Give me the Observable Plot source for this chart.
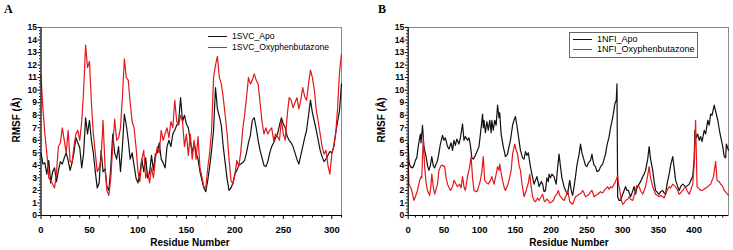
<!DOCTYPE html>
<html><head><meta charset="utf-8">
<script src="https://cdn.jsdelivr.net/npm/d3@7"></script>
<script src="https://cdn.jsdelivr.net/npm/@observablehq/plot@0.6"></script>
<style>
body{margin:0;background:#fff;}
#wrap{position:relative;width:733px;height:250px;font-family:Arial,"Liberation Sans",sans-serif;overflow:hidden;}
.panel{position:absolute;top:0;}
.letter{position:absolute;font-family:"Liberation Serif","DejaVu Serif",serif;font-weight:bold;font-size:12px;line-height:12px;}
.ytitle{position:absolute;font-weight:bold;font-size:10px;transform:translate(-50%,-50%) rotate(-90deg);white-space:nowrap;}
.xtitle{position:absolute;font-weight:bold;font-size:10px;transform:translate(-50%,-50%);white-space:nowrap;}
.legrow{position:absolute;line-height:9px;white-space:nowrap;transform:translateY(-50%);}
.legline{position:absolute;height:0;border-top:1.2px solid #000;}
.legbox{position:absolute;border:1px solid #666;}
</style></head>
<body><div id="wrap"></div>
<script>
// ---------- Panel A: 1SVC ----------
const aResidues = d3.range(0, 311, 2);
const aApo = [5.0,4.1,4.2,3.3,4.4,2.6,3.5,3.8,2.7,3.6,4.3,4.1,4.6,5.0,4.4,3.6,4.2,5.0,6.2,5.8,
5.4,3.8,5.0,7.8,6.5,7.6,6.0,5.0,3.5,2.2,2.6,5.2,3.5,3.7,2.3,2.0,3.8,6.5,5.0,4.5,
5.5,3.5,5.5,8.1,7.2,6.0,4.5,5.0,4.0,3.0,2.6,3.4,4.5,3.5,4.6,3.0,3.4,4.8,3.6,4.9,
5.0,5.8,4.5,4.2,3.8,5.5,6.0,5.5,6.5,6.8,7.2,7.5,9.4,7.5,8.0,7.3,7.0,6.0,5.0,5.8,
5.0,4.5,3.5,2.8,2.2,1.9,2.8,3.9,5.2,6.8,10.2,8.5,7.9,7.2,5.5,4.2,2.9,2.0,2.2,2.6,
3.3,3.6,4.0,4.1,4.2,4.4,5.0,5.8,6.4,7.6,7.8,7.0,6.0,5.2,4.6,4.0,3.9,4.3,5.0,5.5,
5.8,6.2,6.5,7.2,7.8,7.3,7.0,6.3,6.0,5.8,5.5,5.0,4.5,4.1,4.8,5.5,6.2,6.8,8.0,9.2,
8.2,7.5,6.8,6.0,5.2,4.7,4.3,4.5,4.8,5.1,5.0,5.5,6.6,7.5,8.4,10.5];
const aOxy = [11.2,8.5,6.5,5.0,3.0,2.8,2.5,2.2,3.5,5.5,5.8,7.0,6.0,5.0,6.8,4.3,4.2,5.5,6.5,6.8,
6.0,7.5,10.0,13.6,11.8,12.3,9.0,6.5,5.0,3.5,3.8,4.5,7.6,4.0,2.0,1.6,3.0,5.5,7.7,6.0,
6.2,7.0,9.5,12.5,11.0,10.8,9.0,7.5,7.0,5.5,3.5,2.7,4.5,5.2,3.0,3.5,2.6,3.8,3.0,4.5,
5.5,5.0,6.8,6.0,6.5,7.0,6.2,7.5,7.0,9.2,7.5,7.2,8.0,7.5,5.5,6.5,4.8,6.5,4.5,6.0,
4.5,6.3,3.8,3.1,2.3,2.2,3.8,5.0,6.8,11.0,12.0,12.7,11.0,10.5,9.4,8.0,6.5,4.5,2.8,2.5,
3.2,4.4,3.9,5.0,6.8,8.0,9.4,11.0,10.5,10.8,11.3,10.8,10.5,9.0,7.5,6.5,7.0,6.5,6.8,7.0,
6.0,6.5,6.3,6.0,7.6,6.5,6.0,8.0,9.4,9.2,8.6,9.0,9.4,8.5,9.2,10.2,9.5,9.2,10.5,11.6,
11.0,10.0,8.4,7.5,6.5,5.5,4.9,5.2,4.0,3.3,4.9,5.5,6.5,8.6,11.5,12.9];

// ---------- Panel B: 1NFI ----------
const bApoRes = [0,1,3,6,8,10,12,14,17,18,20,22,25,27,29,31,33,35,37,41,43,45,48,50,52,55,57,60,62,64,66,68,71,73,76,78,80,83,85,87,89,91,94,97,99,102,104,105,106,108,110,112,114,116,117,119,121,123,125,127,128,130,133,136,139,141,143,146,148,150,152,155,157,160,162,164,166,168,171,173,176,178,180,182,183,186,188,190,192,194,196,197,199,201,204,207,209,211,213,215,218,220,223,225,226,228,230,232,234,236,239,241,243,246,248,250,252,255,257,258,260,262,264,267,269,272,274,276,278,281,283,286,288,289,291,292,293,295,297,300,302,304,306,308,311,313,316,318,320,323,325,328,330,332,335,337,339,342,344,346,349,351,353,356,358,360,362,365,367,370,372,374,377,379,381,384,386,388,391,393,396,398,400,401,403,405,407,409,411,414,416,419,421,423,425,428,430,433,435,437,440,442,444,445,448];
const bApoVal = [5.7,4.3,3.9,3.8,4.0,4.4,4.6,5.5,6.5,5.8,7.2,5.5,4.7,4.0,3.6,4.0,4.7,4.0,3.8,4.4,5.0,5.7,6.4,6.0,6.2,5.5,5.3,5.8,5.2,6.0,5.6,6.1,5.7,6.2,7.3,6.0,6.3,6.0,6.2,5.6,4.6,4.5,4.8,5.2,5.5,7.0,8.1,7.0,7.6,6.6,7.5,6.8,7.6,6.6,7.6,6.8,7.6,7.2,8.8,7.8,8.2,6.5,5.5,4.7,4.9,5.5,6.0,7.2,7.6,7.9,7.2,6.0,5.2,4.6,4.5,5.1,4.8,5.0,3.9,3.3,2.5,2.8,3.1,2.6,2.3,2.7,2.5,1.9,2.0,3.0,2.7,3.3,3.0,3.3,3.1,2.5,3.8,4.9,3.9,3.0,2.3,2.0,1.7,2.5,2.8,2.0,1.6,2.3,3.1,4.0,4.9,5.7,5.0,4.4,4.0,3.9,4.2,4.4,4.9,4.5,4.0,3.9,3.5,3.6,3.9,4.1,4.5,4.9,5.6,6.3,7.0,7.8,8.5,8.9,9.2,10.5,1.5,1.2,1.2,1.7,2.0,2.3,2.0,2.0,1.5,1.8,2.3,1.7,2.2,2.5,2.7,3.1,3.3,3.6,4.5,5.5,4.5,3.6,2.7,2.0,1.8,1.7,1.9,2.0,1.8,1.7,2.5,3.3,4.0,4.7,3.8,2.8,2.3,2.0,2.3,2.5,2.4,2.3,2.4,2.5,2.9,3.1,4.5,6.8,6.2,6.5,6.0,6.3,5.9,6.8,6.5,7.6,7.2,8.1,8.0,8.8,8.3,7.6,6.9,6.3,5.5,4.7,4.6,5.7,5.2];
const bOxyRes = [0,1,3,5,8,10,13,16,18,19,21,23,25,27,30,32,33,35,37,41,43,46,48,51,53,55,59,62,64,66,69,72,74,76,78,80,83,86,88,90,92,95,97,101,103,105,107,110,112,115,117,120,122,125,127,128,130,132,134,136,139,141,144,146,149,151,153,155,157,159,162,165,168,170,172,174,176,178,181,183,186,188,190,191,194,196,198,201,203,205,208,210,212,213,216,218,221,223,225,226,230,232,234,237,239,242,244,246,248,251,253,255,257,260,262,265,267,269,272,274,276,279,281,283,285,288,290,293,294,296,298,300,302,304,307,309,311,314,316,318,320,323,325,328,330,332,335,337,339,342,344,346,349,351,353,356,358,360,362,365,367,370,372,374,377,379,381,384,386,388,390,393,395,398,400,402,404,406,409,411,414,416,419,421,423,425,427,430,432,435,437,440,442,445,448];
const bOxyVal = [4.7,2.5,2.3,2.0,1.2,1.5,2.0,2.8,3.1,3.0,6.2,3.9,2.6,2.0,1.6,2.5,3.3,2.3,1.7,2.5,3.6,4.0,4.0,3.9,3.0,2.5,2.0,2.3,2.8,2.6,2.3,2.5,2.2,3.1,2.3,2.0,3.1,3.9,4.7,3.0,2.0,1.9,2.0,2.8,3.5,4.7,2.8,2.6,2.5,2.8,3.1,2.5,3.0,3.9,3.6,4.1,3.4,2.8,2.3,2.0,2.4,2.8,3.6,4.9,5.7,5.2,4.9,4.0,3.6,2.6,1.5,2.0,2.6,3.3,2.3,1.5,1.2,1.1,1.4,1.2,1.5,1.7,1.2,1.1,1.3,1.2,1.0,1.1,1.2,1.5,1.7,2.0,1.6,1.5,1.3,1.2,1.6,2.0,1.4,1.1,0.9,1.2,1.5,1.6,1.7,1.8,2.0,1.8,1.5,1.6,1.7,1.9,2.0,1.5,1.6,1.7,1.8,1.9,1.8,2.0,2.1,2.3,2.1,2.3,2.2,2.5,2.7,3.2,2.6,2.0,1.2,0.9,1.0,1.2,1.3,1.5,1.3,1.2,1.6,2.0,2.4,2.3,2.0,1.7,2.0,2.3,3.2,3.9,3.0,2.3,2.0,1.7,1.6,1.5,1.6,1.5,1.4,1.7,2.0,2.3,2.2,2.5,2.4,2.3,2.0,1.7,1.8,2.0,2.2,2.3,2.0,1.7,2.0,2.5,4.1,7.6,2.3,2.2,2.0,2.0,2.1,2.2,2.3,2.4,2.5,2.8,3.1,4.3,2.8,2.7,2.5,2.3,2.0,1.8,1.6];

const yTicks = d3.range(0, 16);
const APO_COLOR = "#111111";
const OXY_COLOR = "#e3181b";

function panel(cfg) {
  const apo = cfg.apoRes.map((r, i) => ({r, v: cfg.apoVal[i]}));
  const oxy = cfg.oxyRes.map((r, i) => ({r, v: cfg.oxyVal[i]}));
  const xMajor = d3.range(0, cfg.xMax + 1, 50);
  const xMinor = d3.range(0, cfg.xMax + 1, 10).filter(d => d % 50 !== 0);
  const yMinor = d3.range(0, 15, 0.25).filter(d => d % 1 !== 0);
  return Plot.plot({
    width: cfg.width, height: 250,
    marginLeft: cfg.ml, marginRight: cfg.mr, marginTop: 27, marginBottom: 35,
    style: {fontFamily: "Arial, 'Liberation Sans', sans-serif", background: "#fff"},
    x: {domain: [0, cfg.xMax]},
    y: {domain: [0, 15]},
    marks: [
      Plot.frame({stroke: "#8a8a8a", strokeWidth: 1}),
      Plot.line(apo, {x: "r", y: "v", stroke: APO_COLOR, strokeWidth: 1.2}),
      Plot.line(oxy, {x: "r", y: "v", stroke: OXY_COLOR, strokeWidth: 1.2}),
      Plot.ruleX([0], {stroke: "#000"}),
      Plot.ruleY([0], {stroke: "#000"}),
      Plot.axisY({ticks: yTicks, tickSize: 3, tickPadding: 1, fontSize: 8.5, fontWeight: "bold", label: null}),
      Plot.axisY({ticks: yMinor, tickSize: 1.5, tickFormat: () => "", label: null}),
      Plot.axisX({ticks: xMajor, tickSize: 4, tickPadding: 7, fontSize: 9.5, fontWeight: "bold", label: null}),
      Plot.axisX({ticks: xMinor, tickSize: 2.5, tickFormat: () => "", label: null})
    ]
  });
}

const wrap = document.getElementById("wrap");
function add(el, left) { el.classList.add("panel"); el.style.left = left + "px"; wrap.appendChild(el); }

add(panel({apoRes: aResidues, apoVal: aApo, oxyRes: aResidues, oxyVal: aOxy, xMax: 310, width: 366, ml: 40.5, mr: 25}), 0);
add(panel({apoRes: bApoRes, apoVal: bApoVal, oxyRes: bOxyRes, oxyVal: bOxyVal, xMax: 448, width: 367, ml: 41.7, mr: 5}), 366);

function html(cls, text, style) {
  const d = document.createElement("div");
  d.className = cls; if (text) d.textContent = text;
  Object.assign(d.style, style); wrap.appendChild(d); return d;
}
// panel letters and axis titles
html("letter", "A", {left: "4px", top: "3px"});
html("letter", "B", {left: "378px", top: "3px"});
html("ytitle", "RMSF (Å)", {left: "16px", top: "120px"});
html("ytitle", "RMSF (Å)", {left: "381px", top: "120px"});
html("xtitle", "Residue Number", {left: "190px", top: "242px"});
html("xtitle", "Residue Number", {left: "569px", top: "242px"});

// legends
const legA = ["1SVC_Apo", "1SVC_Oxyphenbutazone"];
const legB = ["1NFI_Apo", "1NFI_Oxyphenbutazone"];
const colors = [APO_COLOR, OXY_COLOR];
function legend(labels, x0, y0, gap, fs) {
  labels.forEach((t, i) => {
    html("legline", "", {left: x0 + "px", top: (y0 + i * gap) + "px", width: "19px", borderTopColor: colors[i]});
    html("legrow", t, {left: (x0 + 24) + "px", top: (y0 + i * gap) + "px", fontSize: fs + "px"});
  });
}
legend(legA, 208, 36, 11, 8.6);
html("legbox", "", {left: "569px", top: "32px", width: "127px", height: "24px"});
legend(legB, 573, 39, 10, 9);
</script>
</body></html>
